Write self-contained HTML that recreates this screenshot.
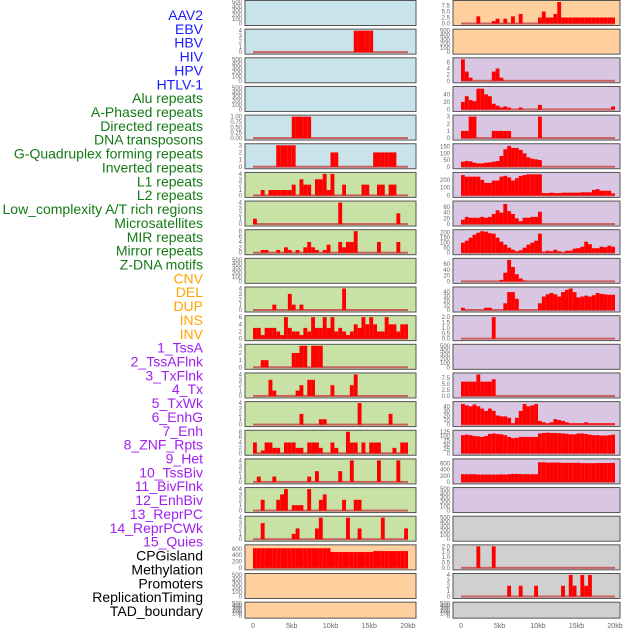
<!DOCTYPE html>
<html><head><meta charset="utf-8">
<style>
html,body{margin:0;padding:0;background:#fff;width:630px;height:630px;overflow:hidden}
svg{display:block}
</style></head>
<body>
<svg id="chart" width="630" height="630" viewBox="0 0 630 630" xmlns="http://www.w3.org/2000/svg">
<g id="labels"></g>
<g id="panels"></g>
<g id="xaxes"></g>
</svg>
<script>
const trackLabels = ["AAV2","EBV","HBV","HIV","HPV","HTLV-1","Alu repeats","A-Phased repeats","Directed repeats","DNA transposons","G-Quadruplex forming repeats","Inverted repeats","L1 repeats","L2 repeats","Low_complexity A/T rich regions","Microsatellites","MIR repeats","Mirror repeats","Z-DNA motifs","CNV","DEL","DUP","INS","INV","1_TssA","2_TssAFlnk","3_TxFlnk","4_Tx","5_TxWk","6_EnhG","7_Enh","8_ZNF_Rpts","9_Het","10_TssBiv","11_BivFlnk","12_EnhBiv","13_ReprPC","14_ReprPCWk","15_Quies","CPGisland","Methylation","Promoters","ReplicationTiming","TAD_boundary"];
const labelGroups = [6,13,5,15,5];
const groupColors = ["#1a1aff","#157a15","#ffa500","#a020f0","#000000"];
const xTickValues = [0,5000,10000,15000,20000];
const xTickLabels = ["0","5kb","10kb","15kb","20kb"];
const binSize = 500;

function sparse(pairs){const a=new Array(40).fill(0);pairs.forEach(p=>{a[p[0]]=p[1];});return a;}
function fill(n,v){return new Array(n).fill(v);}

const leftBg = ["#c9e3ea","#c9e3ea","#c9e3ea","#c9e3ea","#c9e3ea","#c9e3ea","#c8e1a5","#c8e1a5","#c8e1a5","#c8e1a5","#c8e1a5","#c8e1a5","#c8e1a5","#c8e1a5","#c8e1a5","#c8e1a5","#c8e1a5","#c8e1a5","#c8e1a5","#ffd09e","#ffd09e","#ffd09e"];
const rightBg = ["#ffd09e","#ffd09e","#d8c6e2","#d8c6e2","#d8c6e2","#d8c6e2","#d8c6e2","#d8c6e2","#d8c6e2","#d8c6e2","#d8c6e2","#d8c6e2","#d8c6e2","#d8c6e2","#d8c6e2","#d8c6e2","#d8c6e2","#d8c6e2","#d0d0d0","#d0d0d0","#d0d0d0","#d0d0d0"];

const emptyTicks = [0,100,200,300,400,500];
const leftTicks = [emptyTicks,[0,1,2,3,4],emptyTicks,emptyTicks,[0,0.25,0.5,0.75,1],[0,1,2,3],[0,1,2,3,4],[0,1,2,3,4],[0,2,4,6,8],emptyTicks,[0,1,2,3,4],[0,2,4,6],[0,1,2,3],[0,1,2,3,4],[0,1,2,3,4],[0,2,4,6,8],[0,1,2,3,4],[0,1,2,3,4],[0,1,2,3,4],[0,200,400,600],emptyTicks,emptyTicks];
const rightTicks = [[0,2.5,5,7.5],emptyTicks,[0,2,4,6],[0,20,40],[0,1,2,3],[0,50,100,150],[0,100,200],[0,20,40,60],[0,50,100,150,200],[0,20,40,60],[0,10,20,30,40],[0,0.5,1,1.5,2],emptyTicks,[0,2.5,5,7.5],[0,10,20,30,40],[0,25,50,75,100,125],[0,200,400,600],emptyTicks,emptyTicks,[0,0.5,1,1.5,2],[0,1,2,3,4],emptyTicks];
const leftMax = [500,4,500,500,1,3,4,4,8,500,4,6,3,4,4,8,4,4,4,680,500,500];
const rightMax = [9,500,7,57,3,160,275,75,215,75,48,2,500,9,47,125,700,500,500,2,4,500];

const leftValues = [
 null,
 sparse([[26,4],[27,4],[28,4],[29,4],[30,4]]),
 null,null,
 sparse([[10,1],[11,1],[12,1],[13,1],[14,1]]),
 sparse([[6,3],[7,3],[8,3],[9,3],[10,3],[20,2],[21,2],[31,2],[32,2],[33,2],[34,2],[35,2],[36,2]]),
 sparse([[2,1],[4,1],[5,1],[6,1],[7,1],[8,1],[9,1],[10,2],[12,3],[13,2],[14,2],[16,3],[17,3],[18,4],[19,1],[20,4],[23,2],[28,2],[29,2],[32,2],[33,2],[35,2],[36,2]]),
 sparse([[0,1],[22,4],[37,2]]),
 sparse([[2,1],[3,1],[6,1],[8,2],[9,1],[11,1],[13,2],[14,4],[15,2],[16,1],[18,1],[19,3],[22,4],[23,2],[24,4],[25,4],[26,8],[32,4],[37,4]]),
 null,
 sparse([[5,1],[9,3],[10,1],[12,1],[23,4]]),
 [3,3,1,3,3,3,2,1,6,3,2,2,1,3,2,6,3,3,6,3,6,2,3,2,1,2,4,3,6,4,6,4,2,2,6,4,4,2,4,4],
 sparse([[2,1],[3,1],[10,2],[11,2],[12,3],[13,3],[15,3],[16,3],[17,3]]),
 sparse([[4,3],[5,1],[11,1],[12,2],[14,3],[15,3],[20,2],[25,2],[26,4]]),
 sparse([[12,2],[17,1],[18,1],[27,4],[35,2]]),
 [4,0,1,4,4,2,2,0,4,4,4,2,2,0,4,4,4,2,0,0,4,2,0,0,8,4,4,0,4,0,4,4,4,0,0,0,2,0,4,4],
 sparse([[1,1],[5,1],[14,1],[16,2],[22,2],[25,4],[32,4],[37,4]]),
 sparse([[2,2],[6,2],[7,3],[8,4],[10,1],[11,1],[12,1],[14,4],[17,2],[18,3],[23,2],[26,2],[27,2]]),
 sparse([[2,3],[10,1],[11,2],[16,2],[17,4],[24,4],[27,2],[33,4],[39,2]]),
 fill(20,620).concat(fill(11,500),fill(9,530)),
 null,null
];
const rightValues = [
 sparse([[4,3],[8,1],[9,2],[11,2],[13,3],[15,4],[20,2.5],[21,5],[22,2.5],[23,2.5],[24,4],[25,10],[26,2.5],[27,2.5],[28,2.5],[29,2.5],[30,2.5],[31,2.5],[32,2.5],[33,2.5],[34,2.5],[35,2.5],[36,2.5],[37,2.5],[38,2.5],[39,2.5]]),
 null,
 sparse([[0,7],[1,3],[2,1],[8,3],[9,4],[10,1]]),
 [20,35,25,22,55,55,40,35,15,10,5,8,5,0,0,5,0,0,0,0,12,0,0,0,0,0,0,0,0,0,0,0,0,0,0,0,0,0,0,8],
 sparse([[0,1],[1,1],[2,3],[3,3],[8,1],[9,1],[10,1],[11,1],[12,1],[20,3]]),
 [38,43,40,30,25,25,30,33,38,42,80,130,155,140,140,125,100,70,60,55,50,0,0,0,0,0,0,0,0,0,0,0,0,0,0,0,0,0,0,0],
 [260,240,240,240,240,200,160,160,190,190,240,250,230,190,220,250,260,270,270,270,270,30,30,35,30,30,35,35,35,35,35,40,40,40,70,80,60,60,60,25],
 [15,25,22,22,22,25,22,25,35,48,40,70,45,35,20,10,22,22,25,25,43,0,0,0,0,0,0,0,0,0,0,0,0,0,0,0,0,0,0,0],
 [100,120,150,180,200,215,210,195,190,150,110,80,50,30,15,25,50,80,100,120,190,10,20,15,30,15,5,20,20,40,45,60,110,85,45,45,60,55,70,60],
 sparse([[10,5],[11,30],[12,75],[13,50],[14,25],[15,10],[16,3]]),
 [5,0,0,0,0,0,5,5,0,0,0,15,40,40,25,0,0,0,0,0,15,30,35,38,35,30,40,45,48,40,28,30,32,30,33,38,36,35,34,34],
 sparse([[8,2]]),
 null,
 [6,6,6,6,9,6,6,6,7,0,0,0,0,0,0,0,0,0,0,0,0,0,0,0,0,0,0,0,0,0,0,0,0,0,0,0,0,0,0,0],
 [45,42,40,44,40,35,30,35,30,20,18,18,15,3,15,30,45,40,42,45,8,5,3,5,12,10,8,5,3,3,3,3,5,3,3,3,3,3,3,3],
 [105,108,105,100,98,95,100,112,115,112,110,105,95,88,90,95,95,95,95,95,115,118,120,118,118,117,115,113,110,110,115,115,112,108,105,105,103,103,105,108],
 [250,250,250,250,240,240,240,240,240,240,245,240,250,260,260,255,250,250,250,250,640,640,630,630,630,630,620,620,620,620,625,610,610,610,610,615,615,615,615,620],
 null,null,
 sparse([[4,2],[8,2]]),
 sparse([[12,2],[15,2],[19,2],[26,2],[28,4],[29,2],[31,4],[32,2],[33,4]]),
 null
];

const NS="http://www.w3.org/2000/svg";
function mk(tag,attrs,parent){const e=document.createElementNS(NS,tag);for(const k in attrs)e.setAttribute(k,attrs[k]);if(parent)parent.appendChild(e);return e;}

const lg=document.getElementById('labels');
let gi=0,cnt=0;
trackLabels.forEach((t,i)=>{
  while(cnt>=labelGroups[gi]){cnt-=labelGroups[gi];gi++;}
  cnt++;
  const tx=mk('text',{x:203,y:15+i*13.86+5,'text-anchor':'end','font-family':'Liberation Sans, sans-serif','font-size':'14',fill:groupColors[gi]},lg);
  tx.textContent=t;
  
  
});

function rowGeom(i){const top=0.5+i*28.65;const h=(i===21)?16:25;return {top,h};}
function fmtTicks(ticks){
  const dec=ticks.some(v=>v!==Math.floor(v));
  if(!dec)return ticks.map(String);
  const nd=ticks.some(v=>Math.round(v*10)!==v*10)?2:1;
  return ticks.map(v=>v.toFixed(nd));
}

function drawPanel(col,i,bg,ticks,ymax,vals){
  const pg=document.getElementById('panels');
  const x0=col===0?245:453, x1=col===0?416:620;
  const d0=col===0?253:461, d1=col===0?408:615;
  const {top,h}=rowGeom(i);
  const g=mk('g',{},pg);
  
  
  mk('rect',{x:x0,y:top,width:x1-x0,height:h,fill:bg},g);
  const yb=top+h-2, yt=top+1.5;
  const ys=v=>yb-(Math.min(v,ymax)/ymax)*(yb-yt);
  const xs=v=>d0+(v/20000)*(d1-d0);
  const tt=fmtTicks(ticks);
  ticks.forEach((tv,k)=>{
    const lab=mk('text',{x:x0-3,y:ys(tv)+2,'text-anchor':'end','font-family':'Liberation Sans, sans-serif','font-size':'6',fill:'#666'},g);
    lab.textContent=tt[k];
    
    
  });
  if(vals){
    mk('rect',{x:xs(0),y:yb-1,width:xs(20000)-xs(0),height:2,fill:'#c86060'},g);
    vals.forEach((v,k)=>{
      if(v<=0)return;
      const b=mk('rect',{x:xs(k*binSize),y:ys(v),width:xs((k+1)*binSize)-xs(k*binSize),height:yb-ys(v),fill:'#ff0000'},g);
      
      
    });
  }
  mk('rect',{x:x0,y:top,width:x1-x0,height:h,fill:'none',stroke:'#555',"stroke-width":1},g);
}
for(let i=0;i<22;i++){
  drawPanel(0,i,leftBg[i],leftTicks[i],leftMax[i],leftValues[i]);
  drawPanel(1,i,rightBg[i],rightTicks[i],rightMax[i],rightValues[i]);
}
const xg=document.getElementById('xaxes');
[[253,408],[461,615]].forEach((r,c)=>{
  xTickValues.forEach((tv,k)=>{
    const t=mk('text',{x:r[0]+tv/20000*(r[1]-r[0]),y:628,'text-anchor':'middle','font-family':'Liberation Sans, sans-serif','font-size':'7',fill:'#666'},xg);
    t.textContent=xTickLabels[k];
    
    
  });
});
</script>
</body></html>
